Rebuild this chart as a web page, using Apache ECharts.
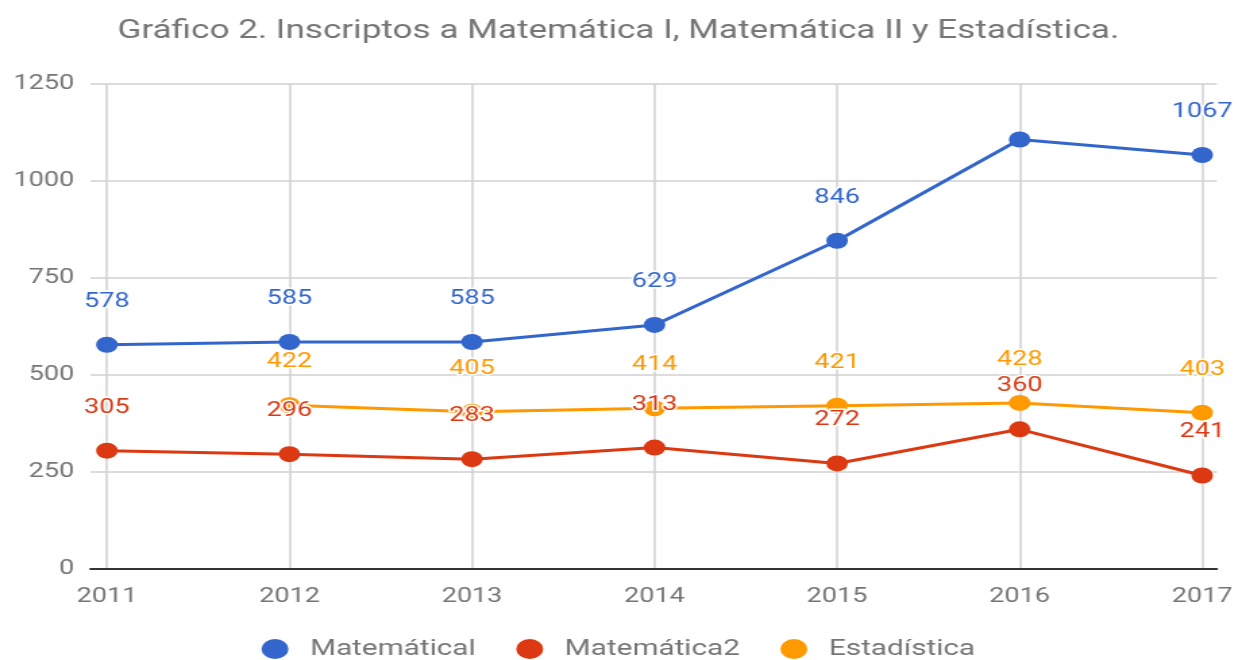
<!DOCTYPE html>
<html>
<head>
<meta charset="utf-8">
<script src="https://cdn.jsdelivr.net/npm/echarts@6/dist/echarts.min.js"></script>
<style>
	html, body { margin: 0; padding: 0; background: #fff; overflow: hidden; }
	/* the reference is stretched sideways, so draw narrow and widen it */
	#chart { width: 916px; height: 660px; transform: scaleX(1.35); transform-origin: 0 0; }
</style>
</head>
<body>
<div id="chart"></div>
<script>
var years = [2011, 2012, 2013, 2014, 2015, 2016, 2017];
var matematica1 = [578, 585, 585, 629, 846, 1107, 1067];
var matematica2 = [305, 296, 283, 313, 272, 360, 241];
var estadistica = [null, 422, 405, 414, 421, 428, 403];
// valores sin etiqueta en el original
var sinEtiqueta1 = [2016];

var gris = '#757575';

function toData(values, hidden) {
	var out = [];
	for (var i = 0; i < years.length; i++) {
		if (values[i] == null) continue;
		var item = { value: [years[i], values[i]] };
		if (hidden && hidden.indexOf(years[i]) >= 0) {
			item.label = { show: false };
		}
		out.push(item);
	}
	return out;
}

function serie(name, color, values, hidden) {
	return {
		name: name,
		type: 'line',
		data: toData(values, hidden),
		symbol: 'circle',
		symbolSize: 16,
		lineStyle: { color: color, width: 3 },
		itemStyle: { color: color },
		label: {
			show: true,
			position: 'top',
			distance: 25,
			color: color,
			fontFamily: 'Roboto',
			fontSize: 20,
			textBorderColor: '#fff',
			textBorderWidth: 3,
			formatter: function (p) { return p.value[1]; }
		}
	};
}

var myChart = echarts.init(document.getElementById('chart'));
var option = {
	animation: false,
	title: {
		text: 'Gráfico 2. Inscriptos a Matemática I, Matemática II y Estadística.',
		left: 'center',
		top: 13,
		textStyle: { color: gris, fontFamily: 'Roboto', fontSize: 26, fontWeight: 'normal' }
	},
	legend: {
		top: 633,
		left: 'center',
		icon: 'circle',
		itemWidth: 20,
		itemHeight: 20,
		itemGap: 30,
		textStyle: { color: gris, fontFamily: 'Roboto', fontSize: 22, padding: [0, 0, 0, 11] },
		data: ['Matemátical', 'Matemática2', 'Estadística']
	},
	grid: { left: 67, right: 14, top: 84, bottom: 91 },
	xAxis: {
		type: 'value',
		min: 2010.91,
		max: 2017.08,
		axisLine: { show: true, onZero: true, lineStyle: { color: '#333', width: 2 } },
		axisTick: { show: false, customValues: years },
		axisLabel: {
			customValues: years,
			color: gris,
			fontFamily: 'Roboto',
			fontSize: 20,
			margin: 18,
			formatter: function (v) { return String(v); }
		},
		splitLine: { show: true, lineStyle: { color: '#d0d0d0', width: 1.5 } }
	},
	yAxis: {
		type: 'value',
		min: 0,
		max: 1250,
		interval: 250,
		axisLine: { show: false },
		axisTick: { show: false },
		axisLabel: {
			color: gris,
			fontFamily: 'Roboto',
			fontSize: 20,
			margin: 12,
			formatter: function (v) { return String(v); }
		},
		splitLine: { lineStyle: { color: '#d0d0d0', width: 1.5 } }
	},
	series: [
		serie('Matemátical', '#3366cc', matematica1, sinEtiqueta1),
		serie('Matemática2', '#dc3912', matematica2),
		serie('Estadística', '#ff9900', estadistica)
	]
};
myChart.setOption(option);
</script>
</body>
</html>
